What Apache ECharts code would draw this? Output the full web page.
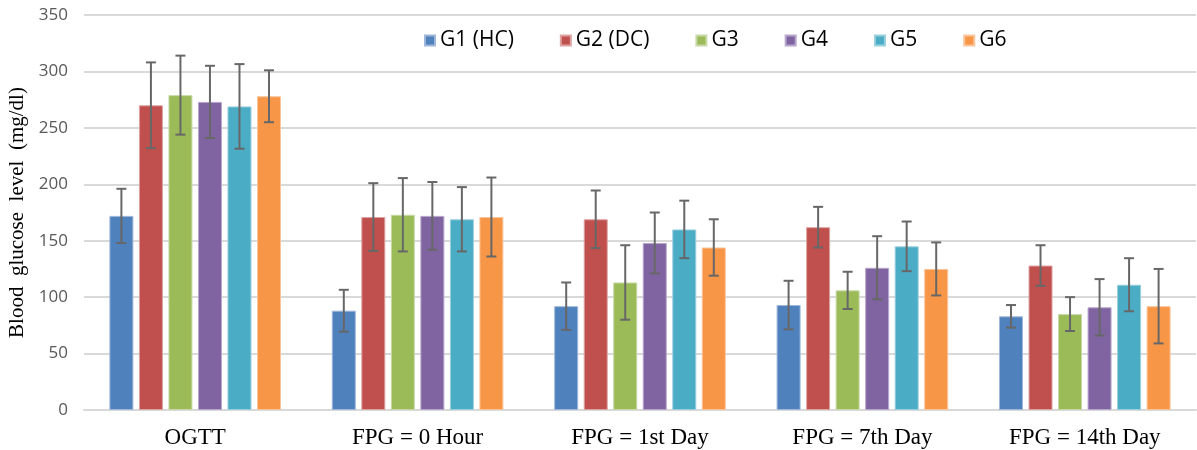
<!DOCTYPE html>
<html>
<head>
<meta charset="utf-8">
<script src="https://cdn.jsdelivr.net/npm/echarts@6/dist/echarts.min.js"></script>
<style>
html,body{margin:0;padding:0;background:#fff;}
#chart{width:1197px;height:450px;}
</style>
</head>
<body>
<div id="chart"></div>
<script>
const categories = ['OGTT', 'FPG = 0 Hour', 'FPG = 1st Day', 'FPG = 7th Day', 'FPG = 14th Day'];
const seriesNames = ['G1 (HC)', 'G2 (DC)', 'G3', 'G4', 'G5', 'G6'];
const yTicks = [0, 50, 100, 150, 200, 250, 300, 350];

const g1Mean = [172, 88, 92, 93, 83];
const g1Sd   = [24, 18.5, 21, 21.5, 10];
const g2Mean = [270, 171, 169, 162, 128];
const g2Sd   = [38, 30, 25.5, 18, 18];
const g3Mean = [279, 173, 113, 106, 85];
const g3Sd   = [35, 32.5, 33, 16.5, 15];
const g4Mean = [273, 172, 148, 126, 91];
const g4Sd   = [32, 30, 27, 28, 25];
const g5Mean = [269, 169, 160, 145, 111];
const g5Sd   = [37.5, 28.5, 25.5, 22, 23.5];
const g6Mean = [278, 171, 144, 125, 92];
const g6Sd   = [23, 35, 25, 23.5, 33];

const means = [g1Mean, g2Mean, g3Mean, g4Mean, g5Mean, g6Mean];
const sds = [g1Sd, g2Sd, g3Sd, g4Sd, g5Sd, g6Sd];
const colors = ['#4F81BD', '#C0504D', '#9BBB59', '#8064A2', '#4BACC6', '#F79646'];
const borders = ['#9DB6DA', '#DDA3A1', '#C7D9A6', '#B7A6CC', '#9ACFDD', '#FAC49A'];

const BAR_W = 24;
const GAP = 0.23;
const STEP = BAR_W * (1 + GAP);

const series = [];
seriesNames.forEach((name, i) => {
  series.push({
    name: name,
    type: 'bar',
    data: means[i],
    barWidth: BAR_W,
    barGap: (GAP * 100) + '%',
    itemStyle: { color: colors[i], borderColor: borders[i], borderWidth: 1 },
    emphasis: { disabled: true },
    z: 2
  });
});
seriesNames.forEach((name, i) => {
  const data = means[i].map((m, k) => [k, m - sds[i][k], m + sds[i][k]]);
  series.push({
    name: 'err' + i,
    type: 'custom',
    z: 5,
    silent: true,
    data: data,
    renderItem: function (params, api) {
      const c = api.value(0);
      const lo = api.coord([c, api.value(1)]);
      const hi = api.coord([c, api.value(2)]);
      const x = lo[0] + (i - 2.5) * STEP;
      const cap = 5;
      const st = { stroke: '#676767', lineWidth: 2 };
      return {
        type: 'group',
        children: [
          { type: 'line', shape: { x1: x, y1: lo[1], x2: x, y2: hi[1] }, style: st },
          { type: 'line', shape: { x1: x - cap, y1: lo[1], x2: x + cap, y2: lo[1] }, style: st },
          { type: 'line', shape: { x1: x - cap, y1: hi[1], x2: x + cap, y2: hi[1] }, style: st }
        ]
      };
    }
  });
});

const chart = echarts.init(document.getElementById('chart'), null, { renderer: 'canvas' });
chart.setOption({
  animation: false,
  backgroundColor: '#fff',
  grid: { left: 84, right: 1, top: 15, bottom: 40, containLabel: false, outerBoundsMode: 'none' },
  legend: {
    data: seriesNames,
    left: 419,
    top: 25,
    itemWidth: 10,
    itemHeight: 10,
    itemGap: 46,
    icon: 'rect',
    textStyle: { fontFamily: 'Open Sans', fontSize: 21, color: '#000' }
  },
  xAxis: {
    type: 'category',
    data: categories,
    axisLine: { lineStyle: { color: '#d9d9d9', width: 2 } },
    axisTick: { show: false },
    axisLabel: { fontFamily: 'Liberation Serif', fontSize: 23, color: '#000', margin: 16 }
  },
  yAxis: {
    type: 'value',
    min: yTicks[0],
    max: yTicks[yTicks.length - 1],
    interval: 50,
    name: 'Blood  glucose  level  (mg/dl)',
    nameLocation: 'middle',
    nameGap: 54,
    nameTextStyle: { fontFamily: 'Liberation Serif', fontSize: 21, color: '#000' },
    axisLine: { show: false },
    axisTick: { show: false },
    splitLine: { lineStyle: { color: '#d9d9d9', width: 2 } },
    axisLabel: { fontFamily: 'Open Sans', fontSize: 17, color: '#595959', margin: 16 }
  },
  series: series
});
</script>
</body>
</html>
